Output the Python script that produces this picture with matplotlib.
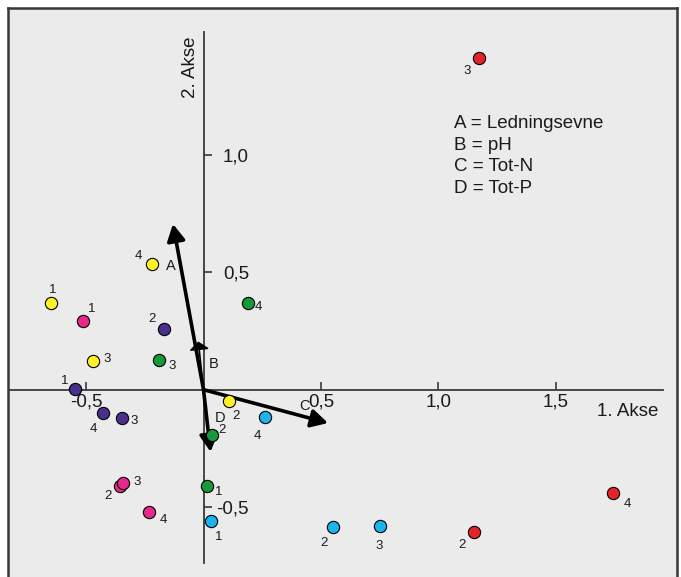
import matplotlib
matplotlib.use("Agg")
import matplotlib.pyplot as plt

plt.rcParams["font.family"] = ["Liberation Sans", "DejaVu Sans"]

# ---- ordination scores (1. Akse, 2. Akse) per station group ----
series_names = ["yellow", "magenta", "purple", "green", "blue", "red"]
point_ids = {
    "yellow": ["1", "2", "3", "4"],
    "magenta": ["1", "2", "3", "4"],
    "purple": ["1", "2", "3", "4"],
    "green": ["1", "2", "3", "4"],
    "blue": ["1", "2", "3", "4"],
    "red": ["2", "3", "4"],
}
axis1 = {
    "yellow": [-0.649, 0.109, -0.470, -0.219],
    "magenta": [-0.513, -0.355, -0.343, -0.232],
    "purple": [-0.547, -0.168, -0.347, -0.428],
    "green": [0.015, 0.036, -0.189, 0.189],
    "blue": [0.032, 0.551, 0.751, 0.262],
    "red": [1.151, 1.172, 1.743],
}
axis2 = {
    "yellow": [0.369, -0.050, 0.122, 0.536],
    "magenta": [0.293, -0.410, -0.398, -0.521],
    "purple": [0.003, 0.259, -0.121, -0.099],
    "green": [-0.410, -0.193, 0.127, 0.369],
    "blue": [-0.559, -0.585, -0.581, -0.116],
    "red": [-0.606, 1.413, -0.440],
}

# ---- environmental vectors ----
vector_names = ["A", "B", "C", "D"]
vector_x = [-0.130, -0.022, 0.530, 0.030]
vector_y = [0.706, 0.205, -0.142, -0.265]
legend_lines = ["A = Ledningsevne", "B = pH", "C = Tot-N", "D = Tot-P"]

xticks = [-0.5, 0.5, 1.0, 1.5]
xtick_labels = ["-0,5", "0,5", "1,0", "1,5"]
yticks = [-0.5, 0.5, 1.0]
ytick_labels = ["-0,5", "0,5", "1,0"]

# ---- styling ----
colors = {
    "yellow": "#fff027",
    "magenta": "#e5288a",
    "purple": "#4a2f8c",
    "green": "#17983a",
    "blue": "#1db3ec",
    "red": "#e3242b",
}
# label offsets (pixels right, pixels down) from each point
label_offsets = {
    "yellow": [(2, -13), (7, 15), (14, -2), (-14, -8)],
    "magenta": [(9, -12), (-12, 10), (14, -1), (14, 8)],
    "purple": [(-10, -8), (-12, -10), (12, 3), (-10, 16)],
    "green": [(12, 6), (10, -5), (13, 6), (10, 4)],
    "blue": [(8, 16), (-9, 16), (-1, 20), (-8, 19)],
    "red": [(-12, 13), (-12, 13), (14, 11)],
}
vector_label_offsets = [(-2, 42), (15, 22), (-24, -17), (10, -34)]
PX = 0.72  # points per pixel at 100 dpi

W, H = 681, 577
fig = plt.figure(figsize=(W / 100, H / 100), dpi=100)
fig.patch.set_facecolor("white")

pos = [8 / W, 0.0, (677 - 8) / W, (577 - 8) / H]

# framed grey panel
bg = fig.add_axes(pos)
bg.set_facecolor("#ebebeb")
bg.set_xticks([])
bg.set_yticks([])
for side in ["top", "left", "right"]:
    bg.spines[side].set_color("#383838")
    bg.spines[side].set_linewidth(1.8)
bg.spines["bottom"].set_visible(False)

# data axes with spines crossing at the origin
ax = fig.add_axes(pos)
ax.patch.set_alpha(0)
ax.set_xlim(-0.832, 2.015)
ax.set_ylim(-0.798, 1.626)
ax.spines["top"].set_visible(False)
ax.spines["right"].set_visible(False)
ax.spines["left"].set_position(("data", 0))
ax.spines["bottom"].set_position(("data", 0))
ax.spines["bottom"].set_bounds(-0.828, 1.955)
ax.spines["left"].set_bounds(-0.738, 1.524)
for side in ["left", "bottom"]:
    ax.spines[side].set_color("#3a3a3a")
    ax.spines[side].set_linewidth(1.3)

ax.set_xticks(xticks)
ax.set_xticklabels(xtick_labels)
ax.tick_params(axis="x", direction="in", length=6, width=1.2, color="#3a3a3a",
               labelsize=13.5, pad=3, labelcolor="#1a1a1a")
ax.set_yticks(yticks)
ax.tick_params(axis="y", direction="in", length=5.5, width=1.2, color="#3a3a3a",
               labelleft=False)
for v, lab in zip(yticks, ytick_labels):
    ax.annotate(lab, xy=(0, v), xytext=(45.5 * PX, 0), textcoords="offset points",
                ha="right", va="center_baseline", fontsize=13.5, color="#1a1a1a")

# sample points
for name in series_names:
    xs, ys = axis1[name], axis2[name]
    ax.scatter(xs, ys, s=78, color=colors[name], edgecolors="black",
               linewidths=0.8, zorder=5)
    for x, y, pid, (dx, dy) in zip(xs, ys, point_ids[name], label_offsets[name]):
        ax.annotate(pid, xy=(x, y), xytext=(dx * PX, -dy * PX),
                    textcoords="offset points", ha="center", va="center",
                    fontsize=9.5, color="#1a1a1a", zorder=6)

# environmental vectors
for i, (n, vx, vy) in enumerate(zip(vector_names, vector_x, vector_y)):
    if n == "B":
        props = dict(arrowstyle="-|>,head_length=0.4,head_width=0.5",
                     lw=1.2, color="black", mutation_scale=12,
                     shrinkA=0, shrinkB=0)
    else:
        props = dict(arrowstyle="-|>,head_length=0.5,head_width=0.27",
                     lw=2.6, color="black", mutation_scale=20,
                     shrinkA=0, shrinkB=0)
    ax.annotate("", xy=(vx, vy), xytext=(0, 0), arrowprops=props, zorder=4)
    dx, dy = vector_label_offsets[i]
    ax.annotate(n, xy=(vx, vy), xytext=(dx * PX, -dy * PX),
                textcoords="offset points", ha="center", va="center",
                fontsize=10.5, color="#1a1a1a")

# axis titles
fig.text(597 / W, 1 - 416 / H, "1. Akse", fontsize=13.5, ha="left",
         va="baseline", color="#1a1a1a")
fig.text(195 / W, 1 - 98 / H, "2. Akse", fontsize=13.5, rotation=90,
         rotation_mode="anchor", ha="left", va="baseline", color="#1a1a1a")

# vector key
for k, line in enumerate(legend_lines):
    fig.text(454 / W, 1 - (128 + 21.7 * k) / H, line, fontsize=13.5,
             ha="left", va="baseline", color="#1a1a1a")

fig.savefig("out.png", dpi=100)
